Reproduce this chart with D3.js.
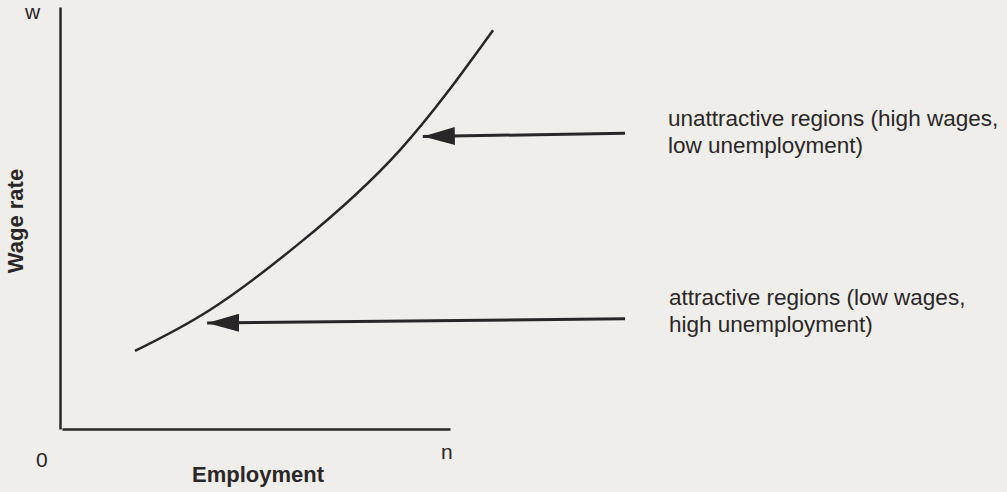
<!DOCTYPE html>
<html>
<head>
<meta charset="utf-8">
<script src="https://cdn.jsdelivr.net/npm/d3@7"></script>
<style>
  body { margin: 0; background: #efeeea; }
  svg { display: block; }
  text { font-family: "Liberation Sans", Arial, sans-serif; fill: #2b2627; }
  .bold { font-weight: bold; }
</style>
</head>
<body>
<div id="chart"></div>
<script>
// curve: employment (x) vs wage rate (y), in axis units 0..10
const curveX = [1.88, 3.81, 6.13, 8.71, 11.11];
const curveY = [1.85, 2.82, 4.41, 6.61, 9.45];

// arrows: start (right) -> tip (just short of the curve)
const arrowStartX = [14.51, 14.51];
const arrowStartY = [7.01, 2.61];
const arrowTipX = [9.30, 3.74];
const arrowTipY = [6.93, 2.51];

// annotation lines
const upperLabel = ["unattractive regions (high wages,", "low unemployment)"];
const lowerLabel = ["attractive regions (low wages,", "high unemployment)"];

const xTitle = "Employment";
const yTitle = "Wage rate";
const originLabel = "0";
const xEndLabel = "n";
const yEndLabel = "w";

const width = 1007, height = 492;
const ink = "#2a2526";

const svg = d3.select("#chart")
  .append("svg")
    .attr("width", width)
    .attr("height", height);

const xScale = d3.scaleLinear().domain([0, 10]).range([62, 450]);
const yScale = d3.scaleLinear().domain([0, 10]).range([429, 7]);

// axes (lines only)
svg.append("g")
    .attr("transform", "translate(0," + yScale(0) + ")")
    .call(d3.axisBottom(xScale).tickValues([]).tickSizeOuter(0))
    .call(function(g) { g.select(".domain").attr("stroke", ink).attr("stroke-width", 2.5); });

svg.append("g")
    .attr("transform", "translate(" + (xScale(0) - 2) + ",0)")
    .call(d3.axisLeft(yScale).tickValues([]).tickSizeOuter(0))
    .call(function(g) { g.select(".domain").attr("stroke", ink).attr("stroke-width", 2.5); });

// curve
const pts = curveX.map(function(d, i) { return [d, curveY[i]]; });
svg.append("path")
    .datum(pts)
    .attr("fill", "none")
    .attr("stroke", ink)
    .attr("stroke-width", 2.5)
    .attr("d", d3.line()
        .x(function(d) { return xScale(d[0]); })
        .y(function(d) { return yScale(d[1]); })
        .curve(d3.curveNatural));

// arrowhead marker
svg.append("defs")
  .append("marker")
    .attr("id", "head")
    .attr("markerUnits", "userSpaceOnUse")
    .attr("viewBox", "0 0 32 18")
    .attr("refX", 32)
    .attr("refY", 9)
    .attr("markerWidth", 32)
    .attr("markerHeight", 18)
    .attr("orient", "auto")
  .append("path")
    .attr("d", "M0,0 L32,9 L0,18 Z")
    .attr("fill", ink);

svg.append("g")
  .selectAll("line")
  .data(arrowStartX)
  .enter()
  .append("line")
    .attr("x1", function(d) { return xScale(d); })
    .attr("y1", function(d, i) { return yScale(arrowStartY[i]); })
    .attr("x2", function(d, i) { return xScale(arrowTipX[i]); })
    .attr("y2", function(d, i) { return yScale(arrowTipY[i]); })
    .attr("stroke", ink)
    .attr("stroke-width", 3)
    .attr("marker-end", "url(#head)");

// annotations
function block(lines, x, y) {
  svg.append("text")
      .attr("x", x)
      .attr("y", y)
      .style("font-size", "22.5px")
    .selectAll("tspan")
    .data(lines)
    .enter()
    .append("tspan")
      .attr("x", x)
      .attr("dy", function(d, i) { return i === 0 ? 0 : 26.5; })
      .text(function(d) { return d; });
}
block(upperLabel, 668, 126);
block(lowerLabel, 669, 305);

// axis labels
svg.append("text")
    .attr("x", 36)
    .attr("y", 467)
    .style("font-size", "21px")
    .text(originLabel);

svg.append("text")
    .attr("x", 441)
    .attr("y", 459)
    .style("font-size", "21px")
    .text(xEndLabel);

svg.append("text")
    .attr("x", 25)
    .attr("y", 19)
    .style("font-size", "21px")
    .text(yEndLabel);

svg.append("text")
    .attr("class", "bold")
    .attr("x", 258)
    .attr("y", 482)
    .attr("text-anchor", "middle")
    .style("font-size", "22px")
    .text(xTitle);

svg.append("text")
    .attr("class", "bold")
    .attr("transform", "translate(23,221) rotate(-90)")
    .attr("text-anchor", "middle")
    .style("font-size", "22px")
    .text(yTitle);
</script>
</body>
</html>
